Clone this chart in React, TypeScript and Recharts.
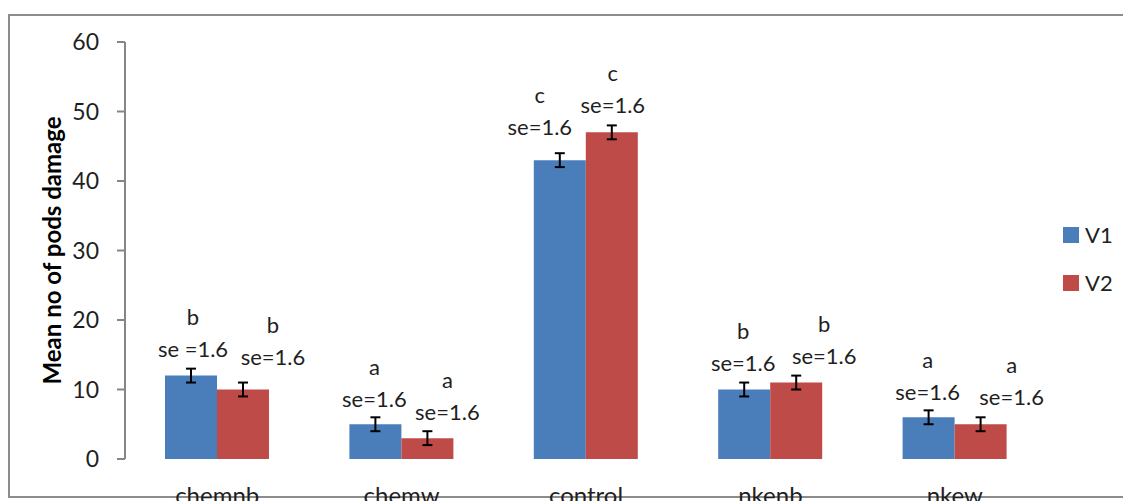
import React from 'react';
import { BarChart, Bar, XAxis, YAxis, ErrorBar, LabelList, Legend, Label } from 'recharts';

const categories = ['chemnb', 'chemw', 'control', 'nkenb', 'nkew'];
const v1Values = [12, 5, 43, 10, 6];
const v2Values = [10, 3, 47, 11, 5];
const v1Errors = [1, 1, 1, 1, 1];
const v2Errors = [1, 1, 1, 1, 1];
const v1Letters = ['b', 'a', 'c', 'b', 'a'];
const v2Letters = ['b', 'a', 'c', 'b', 'a'];
const v1SeLabels = ['se =1.6', 'se=1.6', 'se=1.6', 'se=1.6', 'se=1.6'];
const v2SeLabels = ['se=1.6', 'se=1.6', 'se=1.6', 'se=1.6', 'se=1.6'];
const yTicks = [0, 10, 20, 30, 40, 50, 60];
const boundaryTicks = [0, 1, 2, 3, 4, 5];

// annotation placement (as positioned in the original figure)
const v1LabelDx = [2, -1, -20, -1, -1];
const v2LabelDx = [30, 20, 1, 28, 31];
const v1LabelRise = [27, 25, 33, 27, 25];
const v2LabelRise = [33, 26, 27, 27, 27];

const data = categories.map((c, i) => ({
  name: c,
  v1: v1Values[i],
  v2: v2Values[i],
  v1Err: v1Errors[i],
  v2Err: v2Errors[i],
}));

const FONT = 'Lato, "Noto Sans", sans-serif';
const BLUE = '#4A7EBB';
const RED = '#BE4B48';
const AXIS = '#868686';
const TEXT = '#1f1f1f';

const makeLabel = (letters: string[], ses: string[], dxs: number[], rises: number[]) => (props: any) => {
  const { x, y, width, index } = props;
  const cx = Number(x) + Number(width) / 2 + dxs[index];
  const base = Number(y) - rises[index] + 8;
  return (
    <g>
      <text x={cx} y={base - 32} textAnchor="middle" fontSize={22} fontFamily={FONT} fill={TEXT}>
        {letters[index]}
      </text>
      <text x={cx} y={base} textAnchor="middle" fontSize={22} fontFamily={FONT} fill={TEXT}>
        {ses[index]}
      </text>
    </g>
  );
};

const YTitle = (props: any) => {
  const vb = props.viewBox || { x: 0, y: 34, width: 117, height: 417 };
  const x = vb.x + 43;
  const y = vb.y + vb.height / 2;
  return (
    <text
      x={x}
      y={y}
      transform={`rotate(-90, ${x}, ${y})`}
      textAnchor="middle"
      dominantBaseline="central"
      fontSize={24}
      fontWeight="bold"
      fontFamily={FONT}
      fill="#000"
    >
      Mean no of pods damage
    </text>
  );
};

const LegendContent = () => (
  <div style={{ fontFamily: FONT, fontSize: 22, color: TEXT }}>
    {[
      { label: 'V1', color: BLUE },
      { label: 'V2', color: RED },
    ].map((it) => (
      <div key={it.label} style={{ height: 48, display: 'flex', alignItems: 'center' }}>
        <span style={{ display: 'inline-block', width: 16, height: 16, background: it.color, marginRight: 6 }} />
        <span style={{ lineHeight: '22px' }}>{it.label}</span>
      </div>
    ))}
  </div>
);

export default function App() {
  return (
    <div style={{ position: 'relative', width: 1123, height: 493, overflow: 'hidden', background: '#fff' }}>
      <div
        style={{
          position: 'absolute',
          left: 0,
          top: 6,
          width: 1300,
          height: 484,
          borderTop: '2px solid #8c8c8c',
          borderLeft: '2px solid #8c8c8c',
          borderBottom: '2px solid #8c8c8c',
          boxSizing: 'border-box',
        }}
      />
      <div style={{ position: 'absolute', left: 0, top: 0 }}>
        <BarChart
          width={1123}
          height={493}
          data={data}
          margin={{ top: 34, right: 84, left: 0, bottom: 2 }}
          barGap={0}
          barSize={52}
        >
          <XAxis
            xAxisId="bounds"
            type="number"
            domain={[0, 5]}
            ticks={boundaryTicks}
            allowDataOverflow
            height={0}
            tick={false}
            tickSize={7}
            axisLine={{ stroke: AXIS, strokeWidth: 2 }}
            tickLine={{ stroke: AXIS, strokeWidth: 2 }}
          />
          <XAxis
            xAxisId="cat"
            dataKey="name"
            height={40}
            axisLine={false}
            tickLine={false}
            tickSize={0}
            tickMargin={28}
            tick={{ fontSize: 24, fontFamily: FONT, fill: TEXT }}
          />
          <YAxis
            domain={[0, 60]}
            ticks={yTicks}
            width={117}
            tickSize={8}
            tickMargin={18}
            axisLine={{ stroke: AXIS, strokeWidth: 2 }}
            tickLine={{ stroke: AXIS, strokeWidth: 2 }}
            tick={{ fontSize: 23, fontFamily: FONT, fill: TEXT }}
          >
            <Label content={<YTitle />} />
          </YAxis>
          <Legend
            layout="vertical"
            align="center"
            verticalAlign="middle"
            content={<LegendContent />}
            wrapperStyle={{ left: 1055, top: 203, width: 70, height: 100 }}
          />
          <Bar xAxisId="cat" dataKey="v1" name="V1" fill={BLUE} isAnimationActive={false}>
            <ErrorBar dataKey="v1Err" width={5} stroke="#000" strokeWidth={2} direction="y" />
            <LabelList dataKey="v1" content={makeLabel(v1Letters, v1SeLabels, v1LabelDx, v1LabelRise)} />
          </Bar>
          <Bar xAxisId="cat" dataKey="v2" name="V2" fill={RED} isAnimationActive={false}>
            <ErrorBar dataKey="v2Err" width={5} stroke="#000" strokeWidth={2} direction="y" />
            <LabelList dataKey="v2" content={makeLabel(v2Letters, v2SeLabels, v2LabelDx, v2LabelRise)} />
          </Bar>
        </BarChart>
      </div>
    </div>
  );
}
